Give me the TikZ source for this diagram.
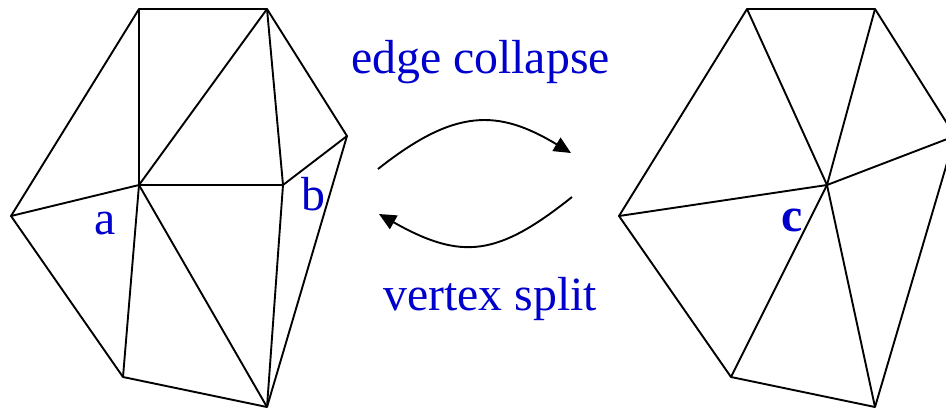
\documentclass[tikz,border=0pt]{standalone}
\usepackage{fontspec}
\setmainfont{Liberation Serif}
\usetikzlibrary{arrows.meta}
\definecolor{labelblue}{RGB}{0,0,205}
\tikzset{
	meshedge/.style={black,line width=0.038cm,line join=round},
	flowarrow/.style={black,line width=0.038cm,-{Triangle[length=0.34cm,width=0.31cm]}},
	biglabel/.style={text=labelblue,anchor=base,inner sep=0pt,font=\fontsize{27.2pt}{30pt}\selectfont},
	vertexlabel/.style={text=labelblue,anchor=base,inner sep=0pt,font=\fontsize{27.2pt}{30pt}\selectfont}
}
\begin{document}
\begin{tikzpicture}[x=0.02cm,y=-0.02cm]
			\useasboundingbox (0,0) rectangle (946,410);
			\clip (0,0) rectangle (946,410);
			% mesh before the collapse
			\coordinate (ltl) at (139,9);
			\coordinate (ltr) at (267,9);
			\coordinate (lr) at (347,136);
			\coordinate (lb) at (267,407);
			\coordinate (lbl) at (123,377);
			\coordinate (ll) at (11,216);
			\coordinate (va) at (139,185);
			\coordinate (vb) at (283,185);
			\draw[meshedge] (ltl) -- (ltr) -- (lr) -- (lb) -- (lbl) -- (ll) -- cycle;
			\draw[meshedge] (va) -- (vb);
			\draw[meshedge] (va) -- (ltl);
			\draw[meshedge] (va) -- (ltr);
			\draw[meshedge] (va) -- (ll);
			\draw[meshedge] (va) -- (lbl);
			\draw[meshedge] (va) -- (lb);
			\draw[meshedge] (vb) -- (ltr);
			\draw[meshedge] (vb) -- (lr);
			\draw[meshedge] (vb) -- (lb);
			\node[vertexlabel] (a) at (105,234) {a};
			\node[vertexlabel] (b) at (313,210) {b};
			% mesh after the collapse
			\coordinate (rtl) at (747,9);
			\coordinate (rtr) at (875,9);
			\coordinate (rr) at (955,136);
			\coordinate (rb) at (875,407);
			\coordinate (rbl) at (731,377);
			\coordinate (rl) at (619,216);
			\coordinate (vc) at (827,185);
			\draw[meshedge] (rtl) -- (rtr) -- (rr) -- (rb) -- (rbl) -- (rl) -- cycle;
			\draw[meshedge] (vc) -- (rtl);
			\draw[meshedge] (vc) -- (rtr);
			\draw[meshedge] (vc) -- (rr);
			\draw[meshedge] (vc) -- (rb);
			\draw[meshedge] (vc) -- (rbl);
			\draw[meshedge] (vc) -- (rl);
			\node[vertexlabel] (c) at (792,231) {\textbf{c}};
			% the two operations
			\coordinate (topstart) at (378,169);
			\coordinate (topend) at (571,153);
			\coordinate (botstart) at (572,197);
			\coordinate (botend) at (379,214);
			\draw[flowarrow] (topstart) .. controls (455,108) and (498,109) .. (topend);
			\draw[flowarrow] (botstart) .. controls (498,256) and (462,261) .. (botend);
			\node[biglabel] (collapse) at (480.5,73) {edge collapse};
			\node[biglabel] (split) at (490,310) {vertex split};
		\end{tikzpicture}
\end{document}
